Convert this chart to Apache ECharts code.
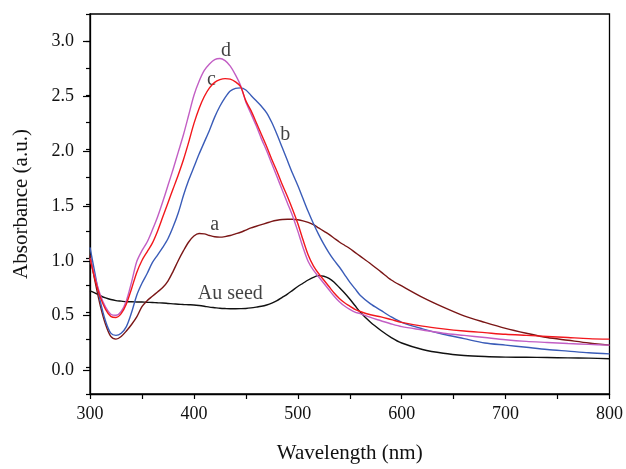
<!DOCTYPE html>
<html><head><meta charset="utf-8">
<script src="https://cdn.jsdelivr.net/npm/echarts@6/dist/echarts.min.js"></script>
<style>html,body{margin:0;padding:0;background:#fff}#c{width:626px;height:469px}</style>
</head><body><div id="c"></div>
<script>
const wavelengths = [300,305,310,315,320,325,330,335,340,345,350,355,360,365,370,375,380,385,390,395,400,405,410,415,420,425,430,435,440,445,450,455,460,465,470,475,480,485,490,495,500,505,510,515,520,525,530,535,540,545,550,555,560,570,580,590,600,620,640,660,680,700,720,740,760,780,800];

const auSeed = [0.70,0.68,0.655,0.635,0.62,0.61,0.605,0.60,0.60,0.598,0.597,0.595,0.593,0.59,0.588,0.584,0.58,0.577,0.574,0.572,0.57,0.565,0.558,0.55,0.545,0.54,0.537,0.535,0.535,0.536,0.538,0.543,0.55,0.558,0.57,0.587,0.61,0.64,0.67,0.705,0.74,0.77,0.80,0.825,0.84,0.835,0.815,0.78,0.73,0.68,0.625,0.565,0.505,0.41,0.335,0.27,0.22,0.16,0.125,0.105,0.095,0.09,0.088,0.086,0.083,0.08,0.075];

const seriesA = [1.03,0.78,0.56,0.39,0.28,0.255,0.28,0.33,0.39,0.46,0.555,0.61,0.65,0.69,0.73,0.79,0.88,0.98,1.07,1.15,1.205,1.228,1.225,1.21,1.198,1.195,1.20,1.21,1.225,1.24,1.26,1.28,1.295,1.31,1.325,1.34,1.35,1.357,1.36,1.36,1.355,1.345,1.33,1.31,1.28,1.25,1.22,1.185,1.15,1.12,1.09,1.055,1.02,0.95,0.875,0.80,0.745,0.64,0.55,0.47,0.41,0.355,0.31,0.27,0.245,0.22,0.20];

const seriesB = [1.10,0.85,0.60,0.42,0.31,0.29,0.31,0.37,0.50,0.66,0.77,0.86,0.96,1.03,1.10,1.18,1.29,1.42,1.58,1.72,1.84,1.96,2.07,2.18,2.30,2.40,2.48,2.54,2.565,2.57,2.55,2.50,2.45,2.40,2.34,2.25,2.14,2.02,1.90,1.78,1.67,1.55,1.43,1.32,1.22,1.13,1.05,0.98,0.92,0.85,0.78,0.72,0.66,0.58,0.52,0.46,0.41,0.35,0.30,0.26,0.22,0.20,0.18,0.16,0.145,0.13,0.12];

const seriesC = [1.0,0.80,0.64,0.53,0.465,0.455,0.49,0.58,0.72,0.87,0.98,1.06,1.14,1.25,1.38,1.51,1.64,1.77,1.91,2.07,2.24,2.38,2.49,2.57,2.62,2.645,2.655,2.65,2.625,2.58,2.45,2.36,2.25,2.14,2.03,1.91,1.80,1.68,1.57,1.45,1.32,1.17,1.03,0.93,0.86,0.80,0.74,0.68,0.63,0.59,0.56,0.53,0.51,0.48,0.46,0.435,0.41,0.375,0.35,0.33,0.315,0.30,0.29,0.28,0.27,0.26,0.255];

const seriesD = [1.0,0.82,0.66,0.55,0.485,0.475,0.51,0.61,0.78,0.97,1.07,1.15,1.26,1.38,1.52,1.67,1.82,1.98,2.14,2.32,2.50,2.63,2.73,2.79,2.83,2.84,2.82,2.77,2.69,2.59,2.44,2.33,2.22,2.10,1.99,1.87,1.75,1.63,1.51,1.39,1.25,1.10,0.97,0.89,0.83,0.77,0.71,0.65,0.60,0.56,0.53,0.505,0.49,0.455,0.425,0.395,0.37,0.34,0.31,0.29,0.27,0.25,0.235,0.225,0.215,0.207,0.20];

const curveLabels = ['d','c','b','a','Au seed'];
const labelX = [431,417,488,420,435];
const labelY = [2.915,2.64,2.14,1.31,0.67];

const xTicks = [300,400,500,600,700,800];
const yTicks = [0.0,0.5,1.0,1.5,2.0,2.5,3.0];

function pairs(vals){ return wavelengths.map((w,i)=>[w,vals[i]]); }
const FONT = '"Liberation Serif", "DejaVu Serif", serif';
const lineDefs = [
  {name:'Au seed', data:auSeed, color:'#111111'},
  {name:'a', data:seriesA, color:'#7a1616'},
  {name:'b', data:seriesB, color:'#3a5cb8'},
  {name:'d', data:seriesD, color:'#c25ec4'},
  {name:'c', data:seriesC, color:'#f2171c'}
];

const chart = echarts.init(document.getElementById('c'), null, {renderer:'canvas'});
const gTop = 14, gBottom = 71, yMin = -0.25, yMax = 3.25;
const unit = (469 - gTop - gBottom) / (yMax - yMin);
const option = {
  animation:false,
  backgroundColor:'#ffffff',
  grid:[
    {left:90, right:15, top:gTop, bottom:gBottom, show:true, borderColor:'#000', borderWidth:1.3, backgroundColor:'transparent'},
    {left:90, right:15, top:gTop + (yMax - yTicks[yTicks.length-1]) * unit, bottom:gBottom + (yTicks[0] - yMin) * unit, show:false}
  ],
  xAxis:[
    {type:'value', gridIndex:0, min:300, max:800, interval:50,
      name:'Wavelength (nm)', nameLocation:'middle', nameGap:49,
      nameTextStyle:{fontFamily:FONT, fontSize:21, color:'#111'},
      axisLine:{onZero:false, lineStyle:{color:'#000', width:1.3}},
      axisTick:{show:true, inside:false, length:5, lineStyle:{color:'#000', width:1.2}},
      axisLabel:{fontFamily:FONT, fontSize:18, color:'#111', margin:11,
        formatter:v => xTicks.indexOf(v) >= 0 ? String(v) : ''},
      splitLine:{show:false}},
    {type:'value', gridIndex:1, min:300, max:800, show:false}
  ],
  yAxis:[
    {type:'value', gridIndex:0, min:yMin, max:yMax, interval:0.25,
      name:'Absorbance (a.u.)', nameLocation:'middle', nameGap:58, nameRotate:90,
      nameTextStyle:{fontFamily:FONT, fontSize:21, color:'#111'},
      axisLine:{show:true, onZero:false, lineStyle:{color:'#000', width:1.3}},
      axisTick:{show:true, length:4, lineStyle:{color:'#000', width:1.2}},
      axisLabel:{show:false},
      splitLine:{show:false}},
    {type:'value', gridIndex:1, min:yTicks[0], max:yTicks[yTicks.length-1], interval:0.5,
      axisLine:{show:false},
      axisTick:{show:true, length:7, lineStyle:{color:'#000', width:1.2}},
      axisLabel:{fontFamily:FONT, fontSize:18, color:'#111', margin:16,
        formatter:v => v.toFixed(1)},
      splitLine:{show:false}}
  ],
  series: lineDefs.map(d => ({
    type:'line', name:d.name, xAxisIndex:0, yAxisIndex:0,
    data:pairs(d.data), showSymbol:false, smooth:0.3,
    lineStyle:{color:d.color, width:1.4}, silent:true
  })).concat([{
    type:'scatter', xAxisIndex:0, yAxisIndex:0, symbolSize:1,
    itemStyle:{color:'rgba(0,0,0,0)'},
    data: curveLabels.map((t,i)=>({name:t, value:[labelX[i], labelY[i]]})),
    label:{show:true, position:'inside', formatter:'{b}', fontFamily:FONT, fontSize:20, color:'#111'}
  }])
};
chart.setOption(option);
</script></body></html>
